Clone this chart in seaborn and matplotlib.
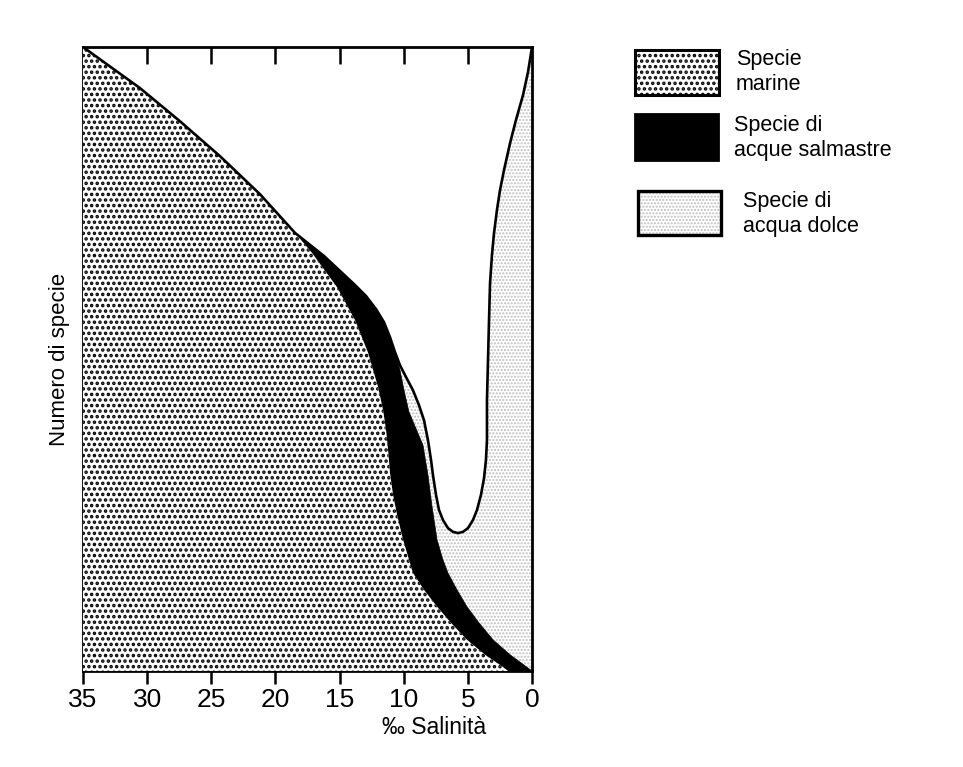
import numpy as np
import matplotlib
matplotlib.use("Agg")
import matplotlib.pyplot as plt
import seaborn as sns
from matplotlib.patches import Rectangle

# ---------------- data ----------------
# upper boundary of marine species (salinity per mille, relative number of species)
sal_marine = [35.0, 30.55, 27.44, 24.32, 21.20, 18.47, 17.15, 15.20, 13.80, 12.78, 12.00,
              11.61, 11.38, 11.22, 11.07, 10.83, 10.52, 10.05, 9.28, 8.42, 7.40, 6.31,
              5.07, 3.66, 2.26, 1.87, 0.0]
n_marine = [100.0, 93.4, 88.1, 82.5, 76.4, 70.2, 67.0, 61.5, 56.25, 51.0, 45.5,
            41.8, 38.6, 35.4, 31.7, 28.2, 25.0, 21.0, 15.7, 13.0, 10.3, 7.7,
            5.0, 2.6, 0.64, 0.0, 0.0]

# upper boundary of brackish-water species (cumulative: marine + brackish)
sal_brackish = [18.47, 16.21, 13.87, 12.94, 12.16, 11.54, 11.07, 10.68, 10.29, 9.98, 9.59,
                8.50, 8.11, 7.79, 7.40, 6.94, 6.55, 5.85, 5.07, 4.13, 3.04, 1.71, 0.0]
n_brackish_top = [70.2, 66.5, 62.0, 60.1, 58.0, 55.9, 53.5, 51.1, 48.2, 45.0, 41.5,
                  36.2, 31.4, 26.3, 21.0, 17.8, 15.7, 13.0, 10.3, 7.7, 5.0, 2.6, 0.0]

# total number of species (marine + brackish + freshwater)
sal_total = [35.0, 30.55, 27.44, 24.32, 21.20, 18.47, 16.21, 13.87, 12.94, 12.16, 11.54,
             11.07, 10.68, 10.29, 9.82, 9.28, 8.81, 8.42, 8.11, 7.87, 7.72, 7.48, 7.25,
             6.94, 6.55, 6.16, 5.77, 5.38, 4.99, 4.60, 4.29, 3.98, 3.74, 3.59, 3.51,
             3.51, 3.43, 3.35, 3.27, 3.12, 2.96, 2.73, 2.49, 2.18, 1.71, 1.25, 0.70,
             0.31, 0.0]
n_total = [100.0, 93.4, 88.1, 82.5, 76.4, 70.2, 66.5, 62.0, 60.1, 58.0, 55.9,
           53.5, 51.1, 49.0, 47.1, 45.0, 42.6, 40.2, 37.0, 33.8, 31.4, 28.2, 25.8,
           24.2, 22.9, 22.3, 22.1, 22.3, 22.9, 24.2, 25.8, 28.2, 30.9, 33.8, 37.0,
           43.4, 49.8, 56.25, 62.2, 66.7, 70.2, 73.9, 77.1, 80.3, 84.6, 88.3, 92.3,
           96.0, 100.0]

xticks = [35, 30, 25, 20, 15, 10, 5, 0]
top_ticks = [30, 25, 20, 15, 10, 5]
legend_labels = ["Specie\nmarine", "Specie di\nacque salmastre", "Specie di\nacqua dolce"]
xlabel = "\u2030 Salinit\u00e0"
ylabel = "Numero di specie"

# ---------------- styling ----------------
sns.set_theme(style="white")
plt.rcParams["font.family"] = ["Liberation Sans", "DejaVu Sans"]
plt.rcParams["text.color"] = "black"

W, H = 963, 767
fig = plt.figure(figsize=(W / 100, H / 100), dpi=100)
fig.patch.set_facecolor("white")
L, R, T, B = 83, 532, 47, 671
ax = fig.add_axes([L / W, 1 - B / H, (R - L) / W, (B - T) / H])
ax.set_facecolor("white")
ax.set_xlim(35, 0)
ax.set_ylim(0, 100)

MARINE_HATCH = "..."
FRESH_HATCH = "....."
FRESH_COLOR = "#bdbdbd"

sm = np.asarray(sal_marine); nm = np.asarray(n_marine)
sb = np.asarray(sal_brackish); nb = np.asarray(n_brackish_top)
st = np.asarray(sal_total); nt = np.asarray(n_total)

# freshwater region: between total curve and brackish top
plt.rcParams["hatch.linewidth"] = 1.0
mask = st <= sb[0]
fx = np.concatenate([st[mask], sb[::-1]])
fy = np.concatenate([nt[mask], nb[::-1]])
ax.fill(fx, fy, facecolor="white", edgecolor=FRESH_COLOR, hatch=FRESH_HATCH, linewidth=0, zorder=1)

# brackish region: between brackish top and marine curve
mmask = sm <= sb[0]
bx = np.concatenate([sb, sm[mmask][::-1]])
by = np.concatenate([nb, nm[mmask][::-1]])
ax.fill(bx, by, facecolor="black", edgecolor="black", linewidth=0.5, zorder=2)

# marine region
plt.rcParams["hatch.linewidth"] = 1.7
mx = np.concatenate([sm, [35.0]])
my = np.concatenate([nm, [0.0]])
ax.fill(mx, my, facecolor="white", edgecolor="black", hatch=MARINE_HATCH, linewidth=0, zorder=3)

# outer envelope line
sns.lineplot(x=sal_total, y=n_total, sort=False, color="black", linewidth=1.9, ax=ax,
             zorder=5, estimator=None)

# spines & ticks
for s in ax.spines.values():
    s.set_visible(True)
    s.set_color("black")
    s.set_linewidth(2.0)
ax.set_xticks(xticks)
ax.set_xticklabels([str(t) for t in xticks], fontsize=19)
ax.tick_params(axis="x", bottom=True, direction="out", length=9, width=1.8, pad=3, colors="black")
ax.set_yticks([])
secax = ax.secondary_xaxis("top")
secax.set_xticks(top_ticks)
secax.tick_params(axis="x", direction="in", length=12, width=1.8, labeltop=False, colors="black")
secax.spines["top"].set_visible(False)

ax.set_xlabel(xlabel, fontsize=16.5, color="black")
ax.xaxis.set_label_coords((434 - L) / (R - L), -(716 - B) / (B - T))
ax.set_ylabel(ylabel, fontsize=16, color="black")
ax.yaxis.set_label_coords(-(83 - 70) / (R - L), 0.5)

# ---------------- legend (drawn manually) ----------------
def fig_rect(x0, y0, x1, y1, **kw):
    r = Rectangle((x0 / W, 1 - y1 / H), (x1 - x0) / W, (y1 - y0) / H,
                  transform=fig.transFigure, **kw)
    fig.add_artist(r)

plt.rcParams["hatch.linewidth"] = 1.7
fig_rect(635, 50, 719, 95, facecolor="white", edgecolor="black", hatch=MARINE_HATCH, linewidth=2.2)
fig_rect(635, 114, 718, 160, facecolor="black", edgecolor="black", linewidth=2.0)
plt.rcParams["hatch.linewidth"] = 1.0
fig_rect(638, 191, 721, 235, facecolor="white", edgecolor=FRESH_COLOR, hatch=FRESH_HATCH, linewidth=0)
fig_rect(638, 191, 721, 235, facecolor="none", edgecolor="black", linewidth=2.4)

for (tx, ty), lab in zip([(736, 72), (734, 138), (743, 214)], legend_labels):
    fig.text(tx / W, 1 - ty / H, lab, ha="left", va="center", fontsize=15.5, linespacing=1.25,
             color="black")

fig.savefig("out.png", dpi=100, facecolor="white")
